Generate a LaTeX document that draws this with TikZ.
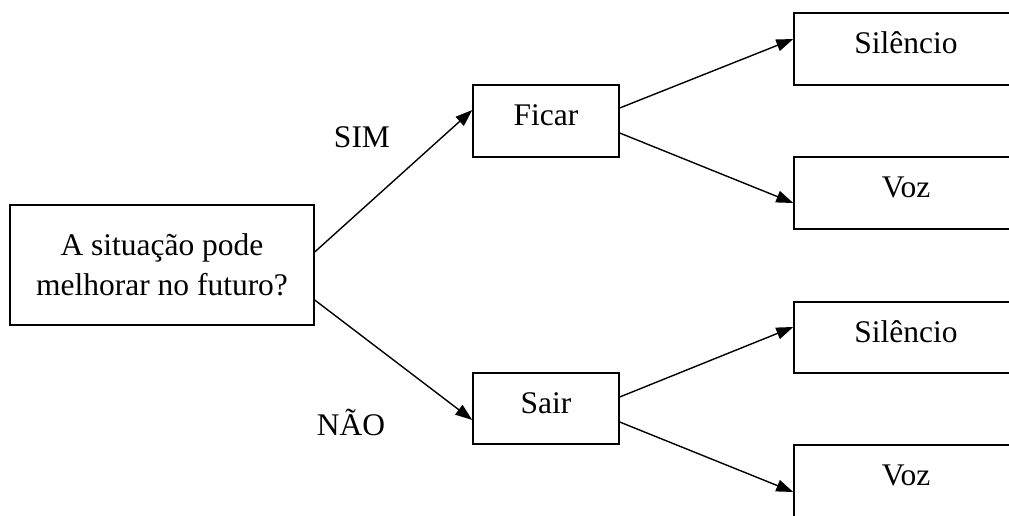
\documentclass[tikz,border=0pt]{standalone}
\usepackage{fontspec}
\setmainfont{Liberation Serif}
\usetikzlibrary{arrows.meta}
\begin{document}
\begin{tikzpicture}[x=1pt,y=-1pt,
  font=\fontsize{31.5}{40}\selectfont,
  box/.style={draw, line width=1.4pt, inner sep=0pt, text height=20pt, text depth=11pt},
  branch/.style={line width=1.4pt, -{Triangle[length=17pt,width=12pt]}},
  tag/.style={anchor=base, inner sep=0pt}]
  \clip (0,0) rectangle (1009,515);
  \fill[white] (0,0) rectangle (1009,515);

  % question box
  \node[draw, line width=1.4pt, minimum width=304pt, minimum height=120pt, align=center, inner sep=0pt]
    (q) at (162,265) {A situação pode\\melhorar no futuro?};

  % decisions
  \node[box, minimum width=146pt, minimum height=72pt] (ficar) at (546,121) {Ficar};
  \node[box, minimum width=146pt, minimum height=71pt] (sair) at (546,408.5) {Sair};

  % outcomes (running past the right edge)
  \node[box, minimum width=224pt, minimum height=72pt] (sil1) at (906,49) {Silêncio};
  \node[box, minimum width=224pt, minimum height=72pt] (voz1) at (906,193) {Voz};
  \node[box, minimum width=224pt, minimum height=71pt] (sil2) at (906,337.5) {Silêncio};
  \node[box, minimum width=224pt, minimum height=72pt] (voz2) at (906,481) {Voz};

  % answers
  \node[tag] (sim) at (362,147) {SIM};
  \node[tag] (nao) at (351,435) {NÃO};

  % connectors
  \draw[branch] ([yshift=13pt]q.east) -- ([yshift=11pt]ficar.west);
  \draw[branch] ([yshift=-35pt]q.east) -- ([yshift=-11.5pt]sair.west);
  \draw[branch] ([yshift=13pt]ficar.east) -- ([yshift=10pt]sil1.west);
  \draw[branch] ([yshift=-12pt]ficar.east) -- ([yshift=-10pt]voz1.west);
  \draw[branch] ([yshift=11.5pt]sair.east) -- ([yshift=10.5pt]sil2.west);
  \draw[branch] ([yshift=-13.5pt]sair.east) -- ([yshift=-11pt]voz2.west);
\end{tikzpicture}
\end{document}
